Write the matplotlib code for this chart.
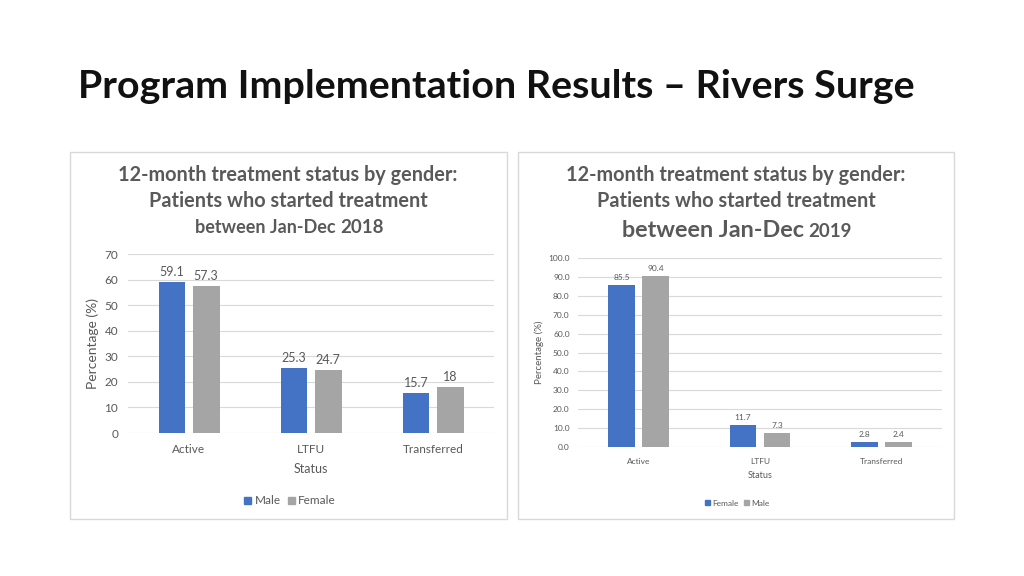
import matplotlib.pyplot as plt
import numpy as np
from matplotlib.patches import Rectangle, Patch

plt.rcParams["font.family"] = ["Lato", "DejaVu Sans"]

W, H = 1024, 576
TEXT = "#595959"
GRID = "#d9d9d9"
BLUE = "#4472C4"
GRAY = "#A5A5A5"

statuses = ["Active", "LTFU", "Transferred"]

# 2018 panel
male_2018 = [59.1, 25.3, 15.7]
female_2018 = [57.3, 24.7, 18]
labels_male_2018 = ["59.1", "25.3", "15.7"]
labels_female_2018 = ["57.3", "24.7", "18"]
yticks_2018 = [0, 10, 20, 30, 40, 50, 60, 70]

# 2019 panel
female_2019 = [85.5, 11.7, 2.8]
male_2019 = [90.4, 7.3, 2.4]
yticks_2019 = [0, 10, 20, 30, 40, 50, 60, 70, 80, 90, 100]


def fx(px):
    return px / W


def fy(py):
    return 1 - py / H


fig = plt.figure(figsize=(W / 100, H / 100), dpi=100)
fig.patch.set_facecolor("white")

fig.text(fx(78), fy(86), "Program Implementation Results \u2013 Rivers Surge",
         fontsize=28.4, fontweight="bold", color="#111111", va="center", ha="left")

# panel frames
for x0, x1 in [(70, 507), (518, 954)]:
    fig.patches.append(Rectangle((fx(x0), fy(519)), fx(x1 - x0), (519 - 152) / H,
                                 transform=fig.transFigure, facecolor="white",
                                 edgecolor=GRID, linewidth=1, zorder=-5))


def panel(rect, s1, s2, l1, l2, names, ticks, ymax, fmt, tick_fs, lab_fs, legend_xy,
          ylab_x, ylab_fs, ypad, status_y, leg_fs):
    ax = fig.add_axes(rect)
    ax.patch.set_alpha(0)
    x = np.arange(len(statuses))
    off, bw = 0.14, 0.22
    b1 = ax.bar(x - off, s1, bw, color=BLUE, zorder=3)
    b2 = ax.bar(x + off, s2, bw, color=GRAY, zorder=3)
    ax.bar_label(b1, labels=l1, padding=3, fontsize=lab_fs, color=TEXT)
    ax.bar_label(b2, labels=l2, padding=3, fontsize=lab_fs, color=TEXT)
    ax.set_xlim(-0.5, 2.5)
    ax.set_ylim(0, ymax)
    ax.set_yticks(ticks)
    ax.set_yticklabels([fmt.format(t) for t in ticks])
    ax.set_xticks(x)
    ax.set_xticklabels(statuses)
    ax.tick_params(axis="both", length=0, colors=TEXT, labelsize=tick_fs)
    ax.tick_params(axis="y", pad=ypad)
    ax.tick_params(axis="x", pad=8)
    ax.grid(axis="y", color=GRID, linewidth=0.8, zorder=0)
    ax.set_axisbelow(True)
    for s in ax.spines.values():
        s.set_visible(False)
    ax.set_ylabel("Percentage (%)", color=TEXT, fontsize=ylab_fs)
    ax.yaxis.set_label_coords(ylab_x, 0.5 * (2 * rect[1] + rect[3]),
                              transform=fig.transFigure)
    fig.text(rect[0] + rect[2] / 2, status_y, "Status", color=TEXT,
             fontsize=tick_fs + 0.5, ha="center", va="center")
    fig.legend([Patch(color=BLUE), Patch(color=GRAY)], names, loc="center",
               bbox_to_anchor=legend_xy, ncol=2, frameon=False, fontsize=leg_fs,
               handlelength=0.6, handleheight=0.6, handletextpad=0.3,
               columnspacing=0.6, labelcolor=TEXT)
    return ax


panel([fx(128), fy(433), fx(366), (433 - 254) / H],
      male_2018, female_2018, labels_male_2018, labels_female_2018,
      ["Male", "Female"], yticks_2018, 70, "{:d}", 8.5, 9, (fx(290), fy(501)),
      fx(99), 10, 7, fy(469), 8.5)

panel([fx(578), fy(447), fx(364), (447 - 258) / H],
      female_2019, male_2019, [f"{v:.1f}" for v in female_2019],
      [f"{v:.1f}" for v in male_2019],
      ["Female", "Male"], yticks_2019, 100, "{:.1f}", 6, 6, (fx(737), fy(503)),
      fx(544), 7, 6, fy(475), 6)

# panel titles
title_kw = dict(color=TEXT, fontweight="bold", ha="center", va="center")
fig.text(fx(288), fy(175), "12-month treatment status by gender:", fontsize=14.3, **title_kw)
fig.text(fx(288), fy(201), "Patients who started treatment", fontsize=14.3, **title_kw)
fig.text(fx(336), fy(233), "between Jan-Dec", fontsize=13, color=TEXT,
         fontweight="bold", ha="right", va="baseline")
fig.text(fx(340), fy(233), "2018", fontsize=13.5, color=TEXT,
         fontweight="bold", ha="left", va="baseline")

fig.text(fx(736), fy(175), "12-month treatment status by gender:", fontsize=14.3, **title_kw)
fig.text(fx(736), fy(201), "Patients who started treatment", fontsize=14.3, **title_kw)
fig.text(fx(804), fy(237), "between Jan-Dec", fontsize=16.8, color=TEXT,
         fontweight="bold", ha="right", va="baseline")
fig.text(fx(808), fy(237), "2019", fontsize=13.5, color=TEXT,
         fontweight="bold", ha="left", va="baseline")

fig.savefig("out.png", dpi=100, facecolor="white")
